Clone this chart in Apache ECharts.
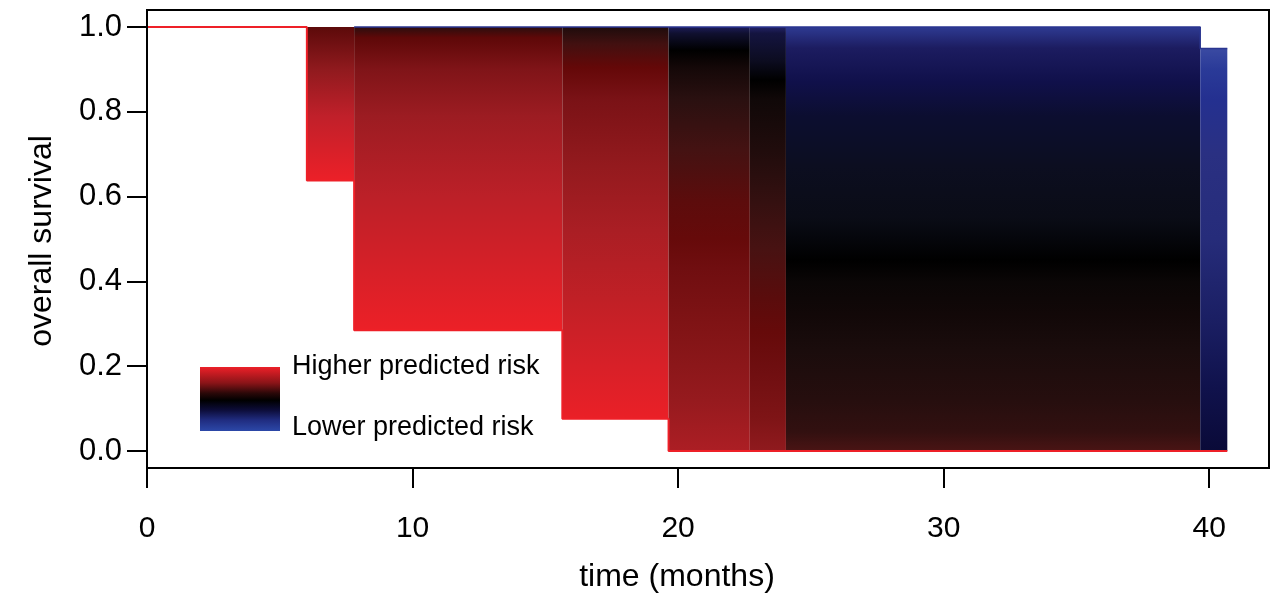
<!DOCTYPE html>
<html><head><meta charset="utf-8">
<script src="https://cdn.jsdelivr.net/npm/echarts@6/dist/echarts.min.js"></script>
<style>html,body{margin:0;padding:0;background:#fff}#c{width:1275px;height:594px}</style>
</head><body><div id="c"></div>
<script>
// ---- data ----
const xTicks = [0, 10, 20, 30, 40];
const yTicks = [0, 0.2, 0.4, 0.6, 0.8, 1.0];

// intervals between event times (months) and the spread of survival across risk groups
const blockStart = [6.02, 7.80, 15.64, 19.64, 22.70, 24.06, 39.66];
const blockEnd   = [7.80, 15.64, 19.64, 22.70, 24.06, 39.66, 40.68];
const blockLow   = [0.638, 0.285, 0.076, 0, 0, 0, 0];
const blockHigh  = [1, 1, 1, 1, 1, 1, 0.949];

// colour of the risk group found at each survival level inside each interval
const blockShading = [
  [[1,'#5c0a0a'],[0.9,'#901a1e'],[0.79,'#c0202a'],[0.638,'#ec2028']],
  [[1,'#2a0e0e'],[0.975,'#5e0808'],[0.9,'#801418'],[0.79,'#9c1c22'],[0.6,'#bc2028'],[0.43,'#d62028'],[0.285,'#ec2027']],
  [[1,'#1e0c0c'],[0.96,'#421010'],[0.905,'#640808'],[0.83,'#7a1216'],[0.67,'#941a1e'],[0.52,'#aa1e24'],[0.36,'#c02026'],[0.2,'#d82028'],[0.076,'#ea2027']],
  [[1,'#1c1c58'],[0.985,'#101030'],[0.945,'#000000'],[0.905,'#140808'],[0.83,'#2a1010'],[0.71,'#441212'],[0.59,'#5c0c0c'],[0.5,'#660a0a'],[0.43,'#700e10'],[0.28,'#821416'],[0.12,'#961a1e'],[0,'#ac1e24']],
  [[1,'#222266'],[0.985,'#141440'],[0.92,'#0c0c20'],[0.875,'#000000'],[0.83,'#100808'],[0.71,'#200c0c'],[0.59,'#341010'],[0.475,'#481212'],[0.36,'#5a0c0c'],[0.28,'#660a0a'],[0.2,'#6e0e10'],[0.08,'#7e1416'],[0,'#901a1e']],
  [[1,'#2e3a92'],[0.95,'#1c1c60'],[0.87,'#10104a'],[0.79,'#0c0e30'],[0.67,'#0c0e20'],[0.55,'#0a0c16'],[0.45,'#000000'],[0.4,'#0a0606'],[0.32,'#120808'],[0.24,'#1a0c0c'],[0.12,'#260e0e'],[0.045,'#321010'],[0,'#4a1414']],
  [[0.949,'#3a4aa2'],[0.9,'#2a3a98'],[0.83,'#243090'],[0.7,'#2a3082'],[0.5,'#262c7a'],[0.3,'#1a1e62'],[0.15,'#10124c'],[0,'#0a0a38']]
];

// highest-risk curve (drawn on top, red) and lowest-risk curve (blue)
const highRiskTime = [0, 6.02, 7.80, 15.64, 19.64, 40.68];
const highRiskSurv = [1, 0.638, 0.285, 0.076, 0, 0];
const lowRiskTime = [7.80, 39.66, 40.68];
const lowRiskSurv = [1, 0.949, 0.949];

const legendLabels = ['Higher predicted risk', 'Lower predicted risk'];
const xTitle = 'time (months)';
const yTitle = 'overall survival';

// ---- chart ----
const FONT = '"Liberation Sans", Arial, sans-serif';
const chart = echarts.init(document.getElementById('c'), null, {renderer: 'canvas'});

const blockData = blockStart.map((s, i) => [s, blockEnd[i], blockLow[i], blockHigh[i], i]);

function renderBlock(params, api) {
  const i = api.value(4);
  const lo = api.value(2), hi = api.value(3);
  const p0 = api.coord([api.value(0), hi]);
  const p1 = api.coord([api.value(1), lo]);
  const stops = blockShading[i].map(([s, c]) => ({offset: (hi - s) / (hi - lo), color: c}));
  return {
    type: 'rect',
    shape: {x: p0[0], y: p0[1], width: p1[0] - p0[0], height: p1[1] - p0[1]},
    style: {fill: {type: 'linear', x: 0, y: 0, x2: 0, y2: 1, colorStops: stops}, stroke: null}
  };
}

chart.setOption({
  animation: false,
  backgroundColor: '#fff',
  grid: {left: 147, right: 6, top: 10, bottom: 126, show: true, borderColor: '#000', borderWidth: 2, backgroundColor: 'transparent', z: 10},
  xAxis: {
    type: 'value', min: 0, max: 42.25,
    axisLine: {show: false, onZero: false},
    splitLine: {show: false},
    axisTick: {show: true, inside: false, length: 20, customValues: xTicks, lineStyle: {color: '#000', width: 2}},
    axisLabel: {customValues: xTicks, margin: 46, fontFamily: FONT, fontSize: 30, color: '#000'}
  },
  yAxis: {
    type: 'value', min: -0.04, max: 1.04,
    axisLine: {show: false, onZero: false},
    splitLine: {show: false},
    axisTick: {show: true, inside: false, length: 20, customValues: yTicks, lineStyle: {color: '#000', width: 2}},
    axisLabel: {customValues: yTicks, margin: 25, fontFamily: FONT, fontSize: 31, color: '#000',
      formatter: v => v.toFixed(1)}
  },
  series: [
    {type: 'custom', renderItem: renderBlock, data: blockData, encode: {x: [0, 1], y: [2, 3]}, z: 2, silent: true},
    {type: 'line', step: 'end', data: lowRiskTime.map((t, i) => [t, lowRiskSurv[i]]), symbol: 'none',
      lineStyle: {color: '#2a3590', width: 1.5}, z: 3, silent: true},
    {type: 'line', step: 'end', data: highRiskTime.map((t, i) => [t, highRiskSurv[i]]), symbol: 'none',
      lineStyle: {color: '#ee2028', width: 2}, z: 4, silent: true}
  ],
  graphic: [
    {type: 'rect', left: 200, top: 367, shape: {width: 80, height: 64},
      style: {fill: {type: 'linear', x: 0, y: 0, x2: 0, y2: 1, colorStops: [
        {offset: 0, color: '#ec2028'}, {offset: 0.25, color: '#8a1418'}, {offset: 0.41, color: '#2a0808'},
        {offset: 0.52, color: '#000000'}, {offset: 0.67, color: '#0c0c38'}, {offset: 0.83, color: '#202c80'},
        {offset: 1, color: '#2c48a8'}]}}, z: 20},
    {type: 'text', left: 292, top: 353, style: {text: legendLabels[0], font: '27px ' + FONT, fill: '#000'}, z: 20},
    {type: 'text', left: 292, top: 414, style: {text: legendLabels[1], font: '27px ' + FONT, fill: '#000'}, z: 20},
    {type: 'text', x: 677, y: 577, style: {text: xTitle, font: '32px ' + FONT, fill: '#000', align: 'center', verticalAlign: 'middle'}},
    {type: 'text', x: 42, y: 241, rotation: Math.PI / 2, style: {text: yTitle, font: '32px ' + FONT, fill: '#000', align: 'center', verticalAlign: 'middle'}}
  ]
});
</script>
</body></html>
